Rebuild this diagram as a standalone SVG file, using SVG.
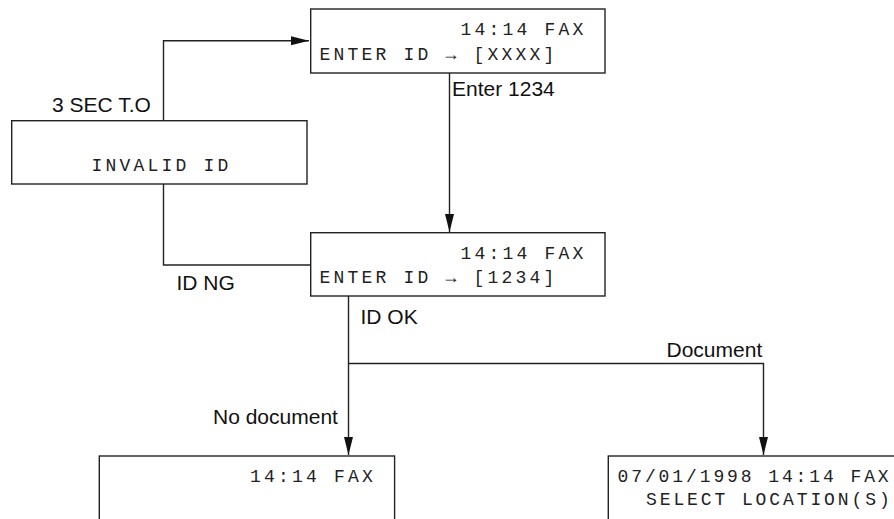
<svg xmlns="http://www.w3.org/2000/svg" width="894" height="519" viewBox="0 0 894 519">
<defs>
<style>
.box{fill:#fff;stroke:#222;stroke-width:1.4}
.lcd{font-family:"Liberation Mono","DejaVu Sans Mono",monospace;font-size:18px;letter-spacing:3.2px;fill:#222}
.tight{letter-spacing:2.9px}
.lbl{font-family:"Liberation Sans",Arial,sans-serif;font-size:21px;fill:#111}
.ln{fill:none;stroke:#222;stroke-width:1.4}
</style>
<marker id="arr" markerUnits="userSpaceOnUse" markerWidth="20" markerHeight="10" refX="18" refY="4.5" orient="auto">
<path d="M0,0 L18,4.5 L0,9 Z" fill="#111"/>
</marker>
</defs>
<rect width="894" height="519" fill="#fff"/>
<g id="connectors">
<path class="ln" d="M163.5,120.7 V40.7 H309" marker-end="url(#arr)"/>
<path class="ln" d="M449.5,73 V232" marker-end="url(#arr)"/>
<path class="ln" d="M163.5,184 V265 H310"/>
<path class="ln" d="M348.5,296 V455" marker-end="url(#arr)"/>
<path class="ln" d="M348.5,363.5 H763.5 V455" marker-end="url(#arr)"/>
<text class="lbl" x="52" y="111.5">3 SEC T.O</text>
<text class="lbl" x="452" y="96">Enter 1234</text>
<text class="lbl" x="176.5" y="290">ID NG</text>
<text class="lbl" x="360.5" y="323.5">ID OK</text>
<text class="lbl" x="666.5" y="356.5">Document</text>
<text class="lbl" x="213" y="424">No document</text>
</g>
<g id="enter-id-xxxx">
<rect class="box" x="310.7" y="9" width="294.3" height="64"/>
<text class="lcd" x="460.5" y="35">14:14 FAX</text>
<text class="lcd" x="319.5" y="59.5">ENTER ID → [XXXX]</text>
</g>
<g id="invalid-id">
<rect class="box" x="11.7" y="120.7" width="295.3" height="63.3"/>
<text class="lcd" x="91.5" y="171">INVALID ID</text>
</g>
<g id="enter-id-1234">
<rect class="box" x="310.7" y="232.7" width="294.3" height="63.3"/>
<text class="lcd" x="460.5" y="258.5">14:14 FAX</text>
<text class="lcd" x="319.5" y="283">ENTER ID → [1234]</text>
</g>
<g id="standby">
<rect class="box" x="99.3" y="456" width="295.3" height="90"/>
<text class="lcd" x="250" y="482">14:14 FAX</text>
</g>
<g id="select-location">
<rect class="box" x="608.3" y="456" width="310" height="90"/>
<text class="lcd tight" x="617.5" y="482">07/01/1998 14:14 FAX</text>
<text class="lcd tight" x="646" y="505">SELECT LOCATION(S)</text>
</g>
</svg>
